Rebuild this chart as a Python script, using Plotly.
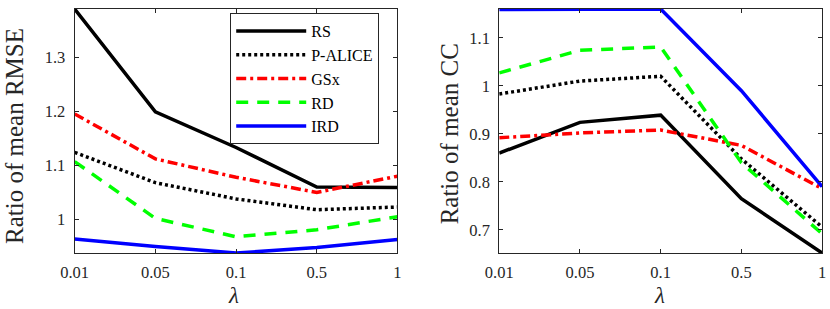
import plotly.graph_objects as go

lambdas = ["0.01", "0.05", "0.1", "0.5", "1"]
series = ["RS", "P-ALICE", "GSx", "RD", "IRD"]

rmse_rs = [1.389, 1.199, 1.133, 1.060, 1.059]
rmse_palice = [1.124, 1.068, 1.038, 1.018, 1.023]
rmse_gsx = [1.195, 1.112, 1.078, 1.050, 1.080]
rmse_rd = [1.107, 1.002, 0.968, 0.981, 1.005]
rmse_ird = [0.964, 0.950, 0.938, 0.948, 0.963]

cc_rs = [0.860, 0.924, 0.939, 0.765, 0.652]
cc_palice = [0.983, 1.010, 1.020, 0.848, 0.706]
cc_gsx = [0.892, 0.902, 0.908, 0.876, 0.786]
cc_rd = [1.027, 1.074, 1.081, 0.840, 0.692]
cc_ird = [1.159, 1.160, 1.160, 0.990, 0.790]

rmse_ticks = [1.0, 1.1, 1.2, 1.3]
rmse_ticktext = ["1", "1.1", "1.2", "1.3"]
cc_ticks = [0.7, 0.8, 0.9, 1.0, 1.1]
cc_ticktext = ["0.7", "0.8", "0.9", "1", "1.1"]

styles = {
    "RS": dict(color="#000000", width=3.5, dash="solid"),
    "P-ALICE": dict(color="#000000", width=3.5, dash="3px,3px"),
    "GSx": dict(color="#ff0000", width=3.5, dash="10px,4px,3px,4px"),
    "RD": dict(color="#00ff00", width=3.5, dash="12px,9px"),
    "IRD": dict(color="#0000ff", width=3.5, dash="solid"),
}

rmse = dict(zip(series, [rmse_rs, rmse_palice, rmse_gsx, rmse_rd, rmse_ird]))
cc = dict(zip(series, [cc_rs, cc_palice, cc_gsx, cc_rd, cc_ird]))

xs = list(range(len(lambdas)))
fig = go.Figure()
for name in series:
    fig.add_trace(go.Scatter(x=xs, y=rmse[name], mode="lines", name=name,
                             line=styles[name], xaxis="x", yaxis="y",
                             legendgroup=name, showlegend=True))
for name in series:
    fig.add_trace(go.Scatter(x=xs, y=cc[name], mode="lines", name=name,
                             line=styles[name], xaxis="x2", yaxis="y2",
                             legendgroup=name, showlegend=False))

FONT = "Liberation Serif"
axcol = "#262626"
tickfont = dict(family=FONT, size=16.5, color=axcol)
common_x = dict(tickvals=xs, ticktext=lambdas, range=[0, len(lambdas) - 1],
                showline=True, linecolor=axcol, linewidth=1, mirror="ticks",
                ticks="inside", ticklen=4, tickcolor=axcol, showgrid=False,
                zeroline=False, tickfont=tickfont, ticklabelstandoff=4)
common_y = dict(showline=True, linecolor=axcol, linewidth=1, mirror="ticks",
                ticks="inside", ticklen=4, tickcolor=axcol, showgrid=False,
                zeroline=False, tickfont=tickfont, ticklabelstandoff=5)

all_rmse = sum(rmse.values(), [])
all_cc = sum(cc.values(), [])

fig.update_layout(
    width=830, height=309,
    margin=dict(l=0, r=0, t=0, b=0),
    paper_bgcolor="white", plot_bgcolor="white",
    xaxis=dict(domain=[62 / 830, 392 / 830], anchor="y", **common_x),
    yaxis=dict(domain=[1 - 253 / 309, 1 - 9 / 309], anchor="x",
               range=[min(all_rmse), max(all_rmse)],
               tickvals=rmse_ticks, ticktext=rmse_ticktext, **common_y),
    xaxis2=dict(domain=[496 / 830, 826 / 830], anchor="y2", **common_x),
    yaxis2=dict(domain=[1 - 253 / 309, 1 - 9 / 309], anchor="x2",
                range=[min(all_cc), max(all_cc)],
                tickvals=cc_ticks, ticktext=cc_ticktext, **common_y),
    legend=dict(x=221 / 830, y=1 - 13 / 309, xanchor="left", yanchor="top",
                bgcolor="white", bordercolor=axcol, borderwidth=1,
                font=dict(family=FONT, size=16, color="#000000"),
                itemwidth=70, tracegroupgap=0),
    showlegend=True,
    annotations=[
        dict(text="Ratio of mean RMSE", x=0, y=1 - 136 / 309, xref="paper", yref="paper",
             textangle=-90, showarrow=False, xanchor="center", yanchor="middle",
             font=dict(family=FONT, size=25, color=axcol)),
        dict(text="Ratio of mean CC", x=445 / 830, y=1 - 134 / 309, xref="paper", yref="paper",
             textangle=-90, showarrow=False, xanchor="center", yanchor="middle",
             font=dict(family=FONT, size=25, color=axcol)),
        dict(text="<i>λ</i>", x=224 / 830, y=1 - 295 / 309, xref="paper", yref="paper",
             showarrow=False, xanchor="center", yanchor="middle",
             font=dict(family=FONT, size=23, color=axcol)),
        dict(text="<i>λ</i>", x=660 / 830, y=1 - 295 / 309, xref="paper", yref="paper",
             showarrow=False, xanchor="center", yanchor="middle",
             font=dict(family=FONT, size=23, color=axcol)),
    ],
)

fig.write_html("out.html", post_script="document.body.style.margin='0';",
               config={"displayModeBar": False})
